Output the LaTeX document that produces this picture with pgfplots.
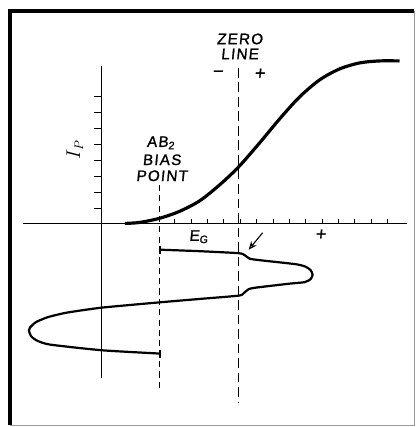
\documentclass[border=0pt]{standalone}
\usepackage{pgfplots}
\pgfplotsset{compat=1.18}
\usepackage{fontspec}
\setmainfont{Liberation Sans}
\newfontfamily\labfont[LetterSpace=8,FakeSlant=0.1,FakeBold=1.2]{Liberation Sans}
\usetikzlibrary{arrows.meta}
\newcommand\lab[1]{{\labfont\fontsize{11}{13}\selectfont #1}}
\begin{document}
\begin{tikzpicture}
\begin{axis}[width=4.17in,height=4.27in,scale only axis,
  xmin=0,xmax=417,ymin=0,ymax=427,axis lines=none,clip=false,
  unbounded coords=jump]
\path (axis cs:0,0) rectangle (axis cs:417,427);
% frame
\addplot[black,line width=2.2pt] coordinates {(10,1) (10,416) (415,416)};
\addplot[black!40,line width=0.8pt] coordinates {(415,416) (415,1) (10,1)};
% axes
\addplot[black,line width=1.1pt] coordinates {(23,203) (407,203)};
\addplot[black,line width=0.8pt] coordinates {(102,361) (102,49)};
% I_P ticks
\addplot[black,line width=0.8pt] coordinates {
 (94,218) (102,218) (nan,nan)
 (94,234) (102,234) (nan,nan)
 (94,250) (102,250) (nan,nan)
 (94,266) (102,266) (nan,nan)
 (94,282) (102,282) (nan,nan)
 (94,298) (102,298) (nan,nan)
 (94,314) (102,314) (nan,nan)
 (94,330) (102,330)};
% E_G ticks
\addplot[black,line width=0.7pt] coordinates {
 (175,203) (175,207.5) (nan,nan)
 (191.4,203) (191.4,207.5) (nan,nan)
 (207.8,203) (207.8,207.5) (nan,nan)
 (224.2,203) (224.2,207.5) (nan,nan)
 (240.6,203) (240.6,207.5) (nan,nan)
 (257,203) (257,207.5) (nan,nan)
 (273.4,203) (273.4,207.5) (nan,nan)
 (289.8,203) (289.8,207.5) (nan,nan)
 (306.2,203) (306.2,207.5) (nan,nan)
 (322.6,203) (322.6,207.5) (nan,nan)
 (339,203) (339,207.5) (nan,nan)
 (355.4,203) (355.4,207.5) (nan,nan)
 (371.8,203) (371.8,207.5) (nan,nan)
 (388.2,203) (388.2,207.5)};
% zero line and bias line
\addplot[black,line width=1pt,dash pattern=on 7pt off 3.5pt] coordinates {(239,359) (239,24)};
\addplot[black,line width=0.7pt,dash pattern=on 4.5pt off 3pt] coordinates {(160,242) (160,35)};
% transfer curve
\addplot[black,line width=2.3pt,smooth,tension=0.5] coordinates {
 (125,203.3) (140,204.3) (160,208.5) (180,215.5) (200,226) (220,242) (239,260)
 (260,284) (280,308) (300,330) (320,347) (340,358) (360,364) (380,366) (400,366)};
% grid current waveform
\addplot[black,line width=1.6pt,smooth,tension=0.35] coordinates {
 (160,177) (200,175.5) (239,173.5) (245,171.5) (250,168) (260,166.5) (296,162.5)
 (306,160) (311,156.5) (313,152) (311,147.5) (305,144.5) (290,143) (256,139)
 (249,137.5) (244,133.5) (239,131) (200,127.7) (160,124.3) (102,119) (67,114)
 (48,109.5) (36,104.5) (30,99) (29,96) (31,90.5) (37,86) (50,82) (102,76.3) (160,73)};
\addplot[black,line width=1.2pt] coordinates {(160,181) (160,173) (nan,nan) (160,77) (160,69)};
% arrow
\addplot[black,line width=0.8pt,-{Stealth[length=6pt,width=5pt,open]}] coordinates {(263,194) (249,177)};
% labels
\node[inner sep=0pt] at (axis cs:240,388) {\lab{ZERO}};
\node[inner sep=0pt] at (axis cs:240,373) {\lab{LINE}};
\node[inner sep=0pt] at (axis cs:218,353) {\lab{\fontsize{13}{13}\selectfont\char"2212}};
\node[inner sep=0pt] at (axis cs:260,353) {\lab{\fontsize{13}{13}\selectfont+}};
\node[inner sep=0pt] at (axis cs:161,284) {\lab{AB\textsubscript{2}}};
\node[inner sep=0pt] at (axis cs:162,267) {\lab{BIAS}};
\node[inner sep=0pt] at (axis cs:162,251) {\lab{POINT}};
\node[inner sep=0pt] at (axis cs:199,190) {\lab{E\textsubscript{G}}};
\node[inner sep=0pt] at (axis cs:321,192) {\lab{\fontsize{13}{13}\selectfont+}};
\node[inner sep=0pt,rotate=90] at (axis cs:75,277) {\fontsize{13.5}{15}\selectfont$I_P$};
\end{axis}
\end{tikzpicture}
\end{document}
